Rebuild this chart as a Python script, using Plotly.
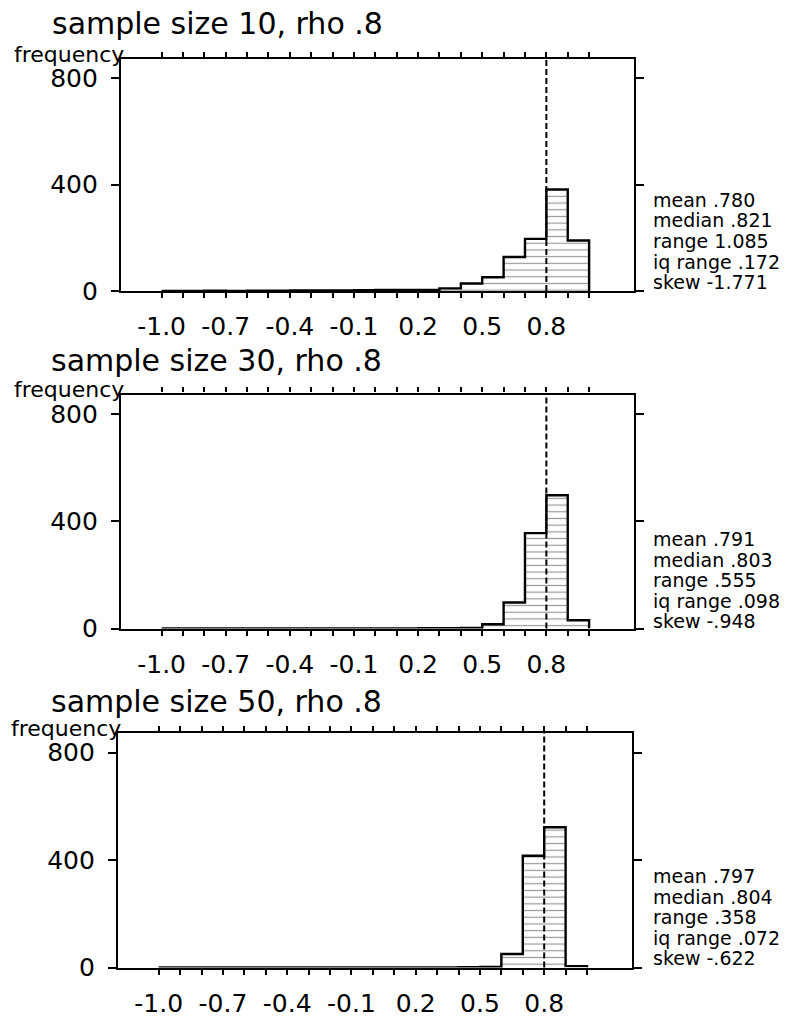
import plotly.graph_objects as go

W, H = 793, 1022

# ---------------- data ----------------
bin_edges = [round(-1.0 + 0.1 * i, 1) for i in range(21)]
counts_n10 = [0, 0, 1, 0, 1, 1, 2, 2, 2, 3, 4, 4, 4, 10, 28, 52, 128, 196, 382, 190]
counts_n30 = [0, 0, 0, 0, 0, 0, 0, 0, 0, 0, 0, 0, 1, 1, 2, 16, 97, 356, 497, 31]
counts_n50 = [0, 0, 0, 0, 0, 0, 0, 0, 0, 0, 0, 0, 0, 0, 1, 2, 50, 416, 522, 5]
sample_sizes = [10, 30, 50]
rho = 0.8
stats_n10 = ["mean .780", "median .821", "range 1.085", "iq range .172", "skew -1.771"]
stats_n30 = ["mean .791", "median .803", "range .555", "iq range .098", "skew -.948"]
stats_n50 = ["mean .797", "median .804", "range .358", "iq range .072", "skew -.622"]
y_tickvals = [0, 400, 800]
x_tickvals = bin_edges
x_ticktext = ["-1.0", "", "", "-0.7", "", "", "-0.4", "", "", "-0.1", "", "",
              "0.2", "", "", "0.5", "", "", "0.8", "", ""]

all_counts = [counts_n10, counts_n30, counts_n50]
all_stats = [stats_n10, stats_n30, stats_n50]

# ---------------- layout geometry (pixels) ----------------
panels = [
    dict(x0=121, x1=634, top=59, bottom=291, title_x=50, title_y=23, stat_y=200),
    dict(x0=121, x1=634, top=394.5, bottom=628.5, title_x=49, title_y=360, stat_y=539),
    dict(x0=118, x1=632, top=733, bottom=967.5, title_x=49, title_y=701, stat_y=876),
]
FONT = "DejaVu Sans"


def px(x):
    return x / W


def py(y):
    return 1 - y / H


fig = go.Figure()
annotations = []
shapes = []
centers = [round((bin_edges[i] + bin_edges[i + 1]) / 2, 2) for i in range(20)]

for k, (counts, stats, n, p) in enumerate(zip(all_counts, all_stats, sample_sizes, panels)):
    xa = "x" if k == 0 else f"x{k+1}"
    ya = "y" if k == 0 else f"y{k+1}"
    xname = "xaxis" if k == 0 else f"xaxis{k+1}"
    yname = "yaxis" if k == 0 else f"yaxis{k+1}"

    fig.add_trace(go.Bar(
        x=centers, y=counts, width=0.1, xaxis=xa, yaxis=ya,
        marker=dict(color="white", line=dict(width=0),
                    pattern=dict(shape="-", size=6.7, solidity=0.18,
                                 fgcolor="#333333", bgcolor="white")),
        showlegend=False, hoverinfo="skip"))
    fig.add_trace(go.Scatter(
        x=bin_edges, y=counts + [0], mode="lines", xaxis=xa, yaxis=ya,
        line=dict(shape="hv", color="black", width=2.4),
        showlegend=False, hoverinfo="skip"))

    fig.layout[xname] = dict(
        domain=[px(p["x0"]), px(p["x1"])], anchor=ya,
        range=[-1.19, 1.21], tickvals=x_tickvals, ticktext=x_ticktext,
        ticks="outside", ticklen=5, tickwidth=1.5, tickcolor="black",
        showline=True, linewidth=2.2, linecolor="black", mirror="ticks",
        showgrid=False, zeroline=False, automargin=False,
        tickfont=dict(family=FONT, size=25, color="black"),
        ticklabelstandoff=7, fixedrange=True)
    fig.layout[yname] = dict(
        domain=[py(p["bottom"]), py(p["top"])], anchor=xa,
        range=[0, 873], tickvals=y_tickvals,
        ticks="outside", ticklen=8, tickwidth=1.5, tickcolor="black",
        showline=True, linewidth=2.2, linecolor="black", mirror="ticks",
        showgrid=False, zeroline=False, automargin=False,
        tickfont=dict(family=FONT, size=25, color="black"),
        ticklabelstandoff=8, fixedrange=True)

    shapes.append(dict(type="line", xref=xa, yref=f"{ya} domain",
                       x0=rho, x1=rho, y0=0, y1=1,
                       line=dict(color="black", width=2, dash="6px,3px")))

    annotations.append(dict(
        text=f"sample size {n}, rho .{int(round(rho * 10))}",
        xref="paper", yref="paper", x=px(p["title_x"]), y=py(p["title_y"]),
        xanchor="left", yanchor="middle", showarrow=False,
        font=dict(family=FONT, size=30, color="black")))
    annotations.append(dict(
        text="frequency", xref="paper", yref="paper",
        x=px(p["x0"] + 5), y=py(p["top"] - 5),
        xanchor="right", yanchor="middle", showarrow=False,
        font=dict(family=FONT, size=22, color="black")))
    for j, s in enumerate(stats):
        annotations.append(dict(
            text=s, xref="paper", yref="paper",
            x=px(651), y=py(p["stat_y"] + 20.5 * j),
            xanchor="left", yanchor="middle", showarrow=False,
            font=dict(family=FONT, size=19, color="black")))

fig.update_layout(
    width=W, height=H, margin=dict(l=0, r=0, t=0, b=0),
    paper_bgcolor="white", plot_bgcolor="white",
    barmode="overlay", bargap=0,
    annotations=annotations, shapes=shapes)

fig.write_html("out.html")
